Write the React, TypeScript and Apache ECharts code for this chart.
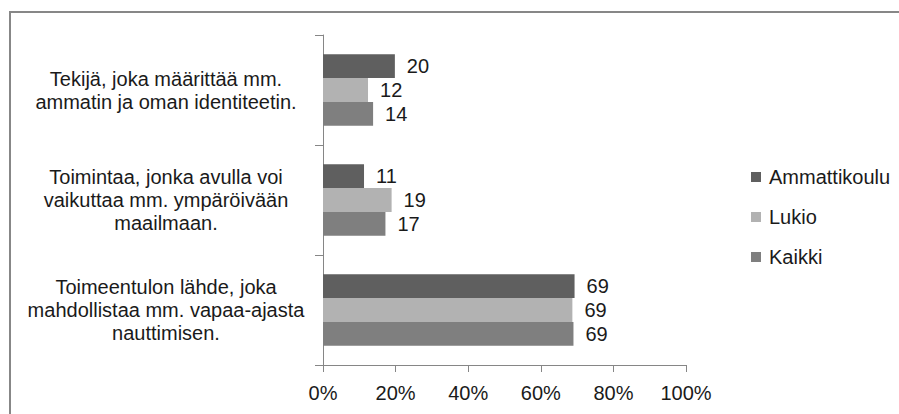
import React, { useEffect, useRef } from "react";
import * as echarts from "echarts";

const categories = [
  "Tekijä, joka määrittää mm.\nammatin ja oman identiteetin.",
  "Toimintaa, jonka avulla voi\nvaikuttaa mm. ympäröivään\nmaailmaan.",
  "Toimeentulon lähde, joka\nmahdollistaa mm. vapaa-ajasta\nnauttimisen.",
];
const seriesNames = ["Ammattikoulu", "Lukio", "Kaikki"];
const ammattikoulu = [19.8, 11.3, 69.3];
const lukio = [12.4, 18.9, 68.7];
const kaikki = [13.8, 17.2, 69.0];
const xTicks = [0, 20, 40, 60, 80, 100];
const colors = ["#5f5f5f", "#b2b2b2", "#7f7f7f"];

const FONT = "'Liberation Sans', Arial, sans-serif";

export default function App() {
  const ref = useRef<HTMLDivElement>(null);
  useEffect(() => {
    if (!ref.current) return;
    const chart = echarts.init(ref.current, undefined, { renderer: "svg" });
    const values = [ammattikoulu, lukio, kaikki];
    chart.setOption({
      animation: false,
      textStyle: { fontFamily: FONT },
      graphic: [
        {
          type: "rect",
          shape: { x: 10, y: 12, width: 900, height: 420 },
          style: { fill: "none", stroke: "#878787", lineWidth: 2 },
          silent: true,
        },
      ],
      grid: { left: 323, right: 213, top: 35, bottom: 49, containLabel: false },
      legend: {
        orient: "vertical",
        left: 746,
        top: 162,
        itemWidth: 10,
        itemHeight: 10,
        itemGap: 20,
        icon: "rect",
        data: seriesNames,
        textStyle: { fontFamily: FONT, fontSize: 20, color: "#1a1a1a", padding: [0, 0, 0, 3] },
      },
      xAxis: {
        type: "value",
        min: xTicks[0],
        max: xTicks[xTicks.length - 1],
        interval: 20,
        splitLine: { show: false },
        axisLine: { show: true, lineStyle: { color: "#868686", width: 1 } },
        axisTick: { show: true, length: 7, lineStyle: { color: "#868686" } },
        axisLabel: {
          formatter: "{value}%",
          fontFamily: FONT,
          fontSize: 20,
          color: "#1a1a1a",
          margin: 18,
        },
      },
      yAxis: {
        type: "category",
        inverse: true,
        data: categories,
        axisLine: { show: true, lineStyle: { color: "#868686", width: 1 } },
        axisTick: { show: true, length: 8, lineStyle: { color: "#868686" } },
        axisLabel: {
          fontFamily: FONT,
          fontSize: 20,
          lineHeight: 23,
          color: "#1a1a1a",
          align: "center",
          margin: 157,
        },
      },
      series: seriesNames.map((name, i) => ({
        name,
        type: "bar",
        data: values[i],
        barGap: "0%",
        barCategoryGap: "35%",
        itemStyle: { color: colors[i] },
        label: {
          show: true,
          position: "right",
          distance: 12,
          fontFamily: FONT,
          fontSize: 20,
          color: "#1a1a1a",
          formatter: (p: any) => String(Math.round(p.value)),
        },
      })),
    });
    return () => chart.dispose();
  }, []);
  return (
    <div
      ref={ref}
      style={{ position: "fixed", left: 0, top: 0, width: 899, height: 414, background: "#fff" }}
    />
  );
}
